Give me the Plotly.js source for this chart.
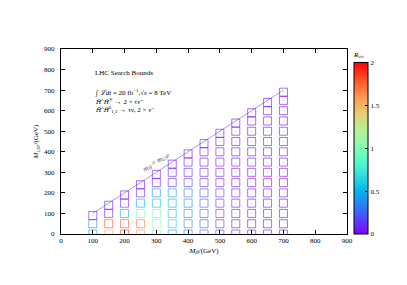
<!DOCTYPE html>
<html>
<head>
<meta charset="utf-8">
<script src="https://cdn.plot.ly/plotly-3.0.1.min.js"></script>
<style>html,body{margin:0;padding:0;background:#fff;}#chart{width:407px;height:285px;}</style>
</head>
<body>
<div id="chart"></div>
<script>
// Grid points: higgsino mass, LSP mass, and R value
const mH = [
  100,100,100,
  150,150,150,150,
  200,200,200,200,200,
  250,250,250,250,250,250,
  300,300,300,300,300,300,300,
  350,350,350,350,350,350,350,350,
  400,400,400,400,400,400,400,400,400,
  450,450,450,450,450,450,450,450,450,450,
  500,500,500,500,500,500,500,500,500,500,500,
  550,550,550,550,550,550,550,550,550,550,550,550,
  600,600,600,600,600,600,600,600,600,600,600,600,600,
  650,650,650,650,650,650,650,650,650,650,650,650,650,650,
  700,700,700,700,700,700,700,700,700,700,700,700,700,700,700
];
const mLSP = [
  0,50,90,
  0,50,100,140,
  0,50,100,150,190,
  0,50,100,150,200,240,
  0,50,100,150,200,250,290,
  0,50,100,150,200,250,300,340,
  0,50,100,150,200,250,300,350,390,
  0,50,100,150,200,250,300,350,400,440,
  0,50,100,150,200,250,300,350,400,450,490,
  0,50,100,150,200,250,300,350,400,450,500,540,
  0,50,100,150,200,250,300,350,400,450,500,550,590,
  0,50,100,150,200,250,300,350,400,450,500,550,600,640,
  0,50,100,150,200,250,300,350,400,450,500,550,600,650,690
];
const R = [
  0.45,0.35,0.04,
  1.50,1.80,0.06,0.04,
  1.85,1.80,0.48,0.08,0.03,
  1.55,1.70,0.90,0.50,0.08,0.03,
  0.95,1.05,0.88,0.55,0.38,0.06,0.03,
  0.50,0.60,0.55,0.50,0.40,0.10,0.05,0.03,
  0.35,0.35,0.35,0.35,0.30,0.16,0.08,0.04,0.02,
  0.24,0.24,0.24,0.23,0.20,0.12,0.08,0.05,0.03,0.02,
  0.12,0.13,0.13,0.12,0.10,0.07,0.05,0.04,0.03,0.02,0.02,
  0.05,0.06,0.06,0.05,0.05,0.04,0.03,0.03,0.02,0.02,0.02,0.01,
  0.03,0.03,0.03,0.03,0.03,0.02,0.02,0.02,0.02,0.01,0.01,0.01,0.01,
  0.02,0.02,0.02,0.02,0.02,0.02,0.01,0.01,0.01,0.01,0.01,0.01,0.01,0.01,
  0.01,0.01,0.01,0.01,0.01,0.01,0.01,0.01,0.01,0.01,0.01,0.00,0.00,0.00,0.00
];
const diagX = [100, 700];
const diagY = [100, 700];
const xTicks = [0,100,200,300,400,500,600,700,800,900];
const yTicks = [0,100,200,300,400,500,600,700,800,900];
const cbTicks = [0,0.5,1,1.5,2];

const serif = "Liberation Serif, DejaVu Serif, serif";
// gnuplot rgbformulae 33,13,10 ("rainbow")
const rainbow = [
  [0.00,'rgb(128,0,255)'],[0.10,'rgb(77,79,252)'],[0.20,'rgb(26,150,243)'],
  [0.25,'rgb(0,180,236)'],[0.30,'rgb(26,206,227)'],[0.40,'rgb(77,243,206)'],
  [0.50,'rgb(128,255,180)'],[0.60,'rgb(179,243,150)'],[0.70,'rgb(230,206,116)'],
  [0.80,'rgb(255,150,79)'],[0.90,'rgb(255,79,40)'],[1.00,'rgb(255,0,0)']
];

const traces = [
  {
    x: diagX, y: diagY, mode: 'lines', type: 'scatter',
    line: {color: 'rgb(140,130,235)', width: 0.8}, hoverinfo: 'skip', showlegend: false
  },
  {
    x: mH, y: mLSP, mode: 'markers', type: 'scatter', showlegend: false,
    marker: {
      symbol: 'square-open', size: 8, color: R, cmin: 0, cmax: 2,
      colorscale: rainbow, opacity: 0.6, line: {width: 1},
      colorbar: {
        x: 1.026, xanchor: 'left', y: 0, yanchor: 'bottom', len: 1, lenmode: 'fraction',
        thickness: 14, thicknessmode: 'pixels', outlinewidth: 1, outlinecolor: '#000',
        tickvals: cbTicks, ticktext: cbTicks.map(String), ticks: 'inside', ticklen: 3,
        tickcolor: '#000', tickfont: {family: serif, size: 7, color: '#000'},
        xpad: 0, ypad: 0,
        title: {text: '<i>R</i><sub><i>vis</i></sub>', side: 'top', font: {family: serif, size: 7, color: '#000'}}
      }
    }
  },
  {
    x: mH, y: mLSP, mode: 'markers', type: 'scatter', showlegend: false, hoverinfo: 'skip',
    marker: {symbol: 'circle', size: 1, color: R, cmin: 0, cmax: 2, colorscale: rainbow, opacity: 0.35, showscale: false, line: {width: 0}}
  }
];

const axisCommon = {
  range: [0, 900], showgrid: false, zeroline: false, showline: true, linecolor: '#000', linewidth: 1,
  mirror: 'ticks', ticks: 'inside', ticklen: 4, tickcolor: '#000', tickwidth: 1,
  tickfont: {family: serif, size: 7, color: '#000'}
};

const layout = {
  width: 407, height: 285,
  margin: {l: 61, r: 60, t: 49, b: 51, pad: 0},
  paper_bgcolor: '#fff', plot_bgcolor: '#fff',
  font: {family: serif, size: 7, color: '#000'},
  xaxis: Object.assign({}, axisCommon, {
    tickvals: xTicks, ticktext: xTicks.map(String),
    title: {text: '<i>M</i><sub><i>H̃</i></sub>/(GeV)', font: {family: serif, size: 7, color: '#000'}, standoff: 3}
  }),
  yaxis: Object.assign({}, axisCommon, {
    tickvals: yTicks, ticktext: yTicks.map(String), ticklabelstandoff: 4,
    title: {text: '<i>M</i><sub><i>LSP</i></sub>/(GeV)', font: {family: serif, size: 7, color: '#000'}, standoff: 4}
  }),
  annotations: [
    {x: 100, y: 785, xref: 'x', yref: 'y', xanchor: 'left', yanchor: 'middle', showarrow: false,
     text: 'LHC Search Bounds', font: {family: serif, size: 7, color: '#000'}},
    {x: 100, y: 687, xref: 'x', yref: 'y', xanchor: 'left', yanchor: 'middle', showarrow: false,
     text: '∫ <i>ℒdt</i> = 20 fb<sup>−1</sup>,√<i>s</i> = 8 TeV', font: {family: serif, size: 7, color: '#000'}},
    {x: 100, y: 643, xref: 'x', yref: 'y', xanchor: 'left', yanchor: 'middle', showarrow: false,
     text: '<i>H̃</i><sup>±</sup><i>H̃</i><sup>∓</sup> → 2 × τ<i>ν̃</i>', font: {family: serif, size: 7, color: '#000'}},
    {x: 100, y: 602, xref: 'x', yref: 'y', xanchor: 'left', yanchor: 'middle', showarrow: false,
     text: '<i>H̃</i><sup>±</sup><i>H̃</i><sup>0</sup><sub>1,2</sub> → τν, 2 × <i>ν̃</i>', font: {family: serif, size: 7, color: '#000'}},
    {x: 298, y: 352, xref: 'x', yref: 'y', xanchor: 'center', yanchor: 'middle', showarrow: false, textangle: -33,
     text: '<i>m</i><sub><i>H̃</i></sub> = <i>m</i><sub><i>LSP</i></sub>', font: {family: serif, size: 7, color: '#444'}}
  ]
};

Plotly.newPlot('chart', traces, layout, {staticPlot: true, displayModeBar: false});
</script>
</body>
</html>
